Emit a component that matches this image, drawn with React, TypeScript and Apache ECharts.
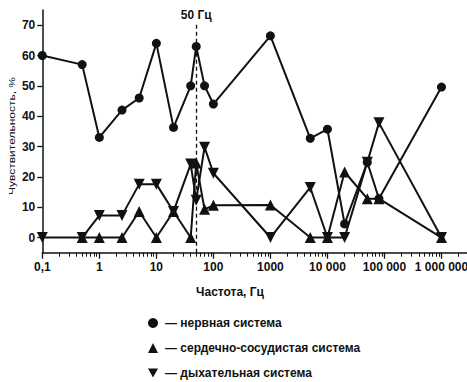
import React, { useEffect, useRef } from "react";
import * as echarts from "echarts";

// ---- data ----
const seriesNames = ["нервная система", "сердечно-сосудистая система", "дыхательная система"];

const nervousFreq = [0.1, 0.5, 1, 2.5, 5, 10, 20, 40, 50, 70, 100, 1000, 5000, 10000, 20000, 50000, 80000, 1000000];
const nervousVal = [60, 57, 33, 42, 46, 64, 36.3, 50, 63, 50, 44, 66.5, 32.7, 35.7, 4.5, 24.8, 12.8, 49.6];

const cardioFreq = [0.5, 1, 2.5, 5, 10, 20, 40, 50, 70, 100, 1000, 5000, 10000, 20000, 50000, 80000, 1000000];
const cardioVal = [0, 0, 0, 8.6, 0, 8.6, 0, 24.6, 9.3, 10.6, 10.7, 0, 0, 21.6, 12.8, 12.8, 0];

const respFreq = [0.1, 0.5, 1, 2.5, 5, 10, 20, 40, 50, 70, 100, 1000, 5000, 10000, 20000, 50000, 80000, 1000000];
const respVal = [0, 0, 7.3, 7.3, 17.6, 17.6, 8.6, 24.2, 12.3, 29.8, 21.2, 0, 16.5, 0, 0, 24.8, 37.8, 0];

const xMajorExp = [-1, 0, 1, 2, 3, 4, 5, 6];
const xTickLabels = ["0,1", "1", "10", "100", "1000", "10 000", "100 000", "1 000 000"];
const yTicks = [0, 10, 20, 30, 40, 50, 60, 70];
const markFreq = 50;
const markLabel = "50 Гц";
const xTitle = "Частота, Гц";
const yTitle = "Чувствительность, %";

// ---- axis extents / layout ----
const X_MIN = 0.1;
const X_MAX = 2.8e6;
const Y_MIN = -5;
const Y_MAX = 75;
const MARK_TOP = 71;

const FONT = "Liberation Sans";
const INK = "#111";
const DOWN_TRI = "path://M0,0L10,0L5,9Z";

const minorExp: number[] = [];
for (let n = -1; n <= 6; n++) {
  for (let k = 2; k <= 9; k++) {
    const v = Math.log10(k) + n;
    if (v < Math.log10(X_MAX)) minorExp.push(v);
  }
}

export default function App() {
  const ref = useRef<HTMLDivElement>(null);
  useEffect(() => {
    if (!ref.current) return;
    const chart = echarts.init(ref.current, null, { renderer: "svg" });
    const lx0 = Math.log10(X_MIN);
    const lx1 = Math.log10(X_MAX);
    const textStyle = { fontFamily: FONT, fontSize: 12, color: INK, fontWeight: "bold" as const };
    const lineSeries = (name: string, freq: number[], vals: number[], symbol: string, size: number) => ({
      name,
      type: "line",
      xAxisIndex: 0,
      yAxisIndex: 0,
      data: freq.map((f, i) => [f, vals[i]]),
      symbol,
      symbolSize: size,
      showSymbol: true,
      itemStyle: { color: INK },
      lineStyle: { color: INK, width: 2 },
      clip: false,
    });
    const s0: any = lineSeries(seriesNames[0], nervousFreq, nervousVal, "circle", 9);
    s0.markLine = {
      silent: true,
      symbol: "none",
      lineStyle: { type: [4, 3], color: INK, width: 1.3 },
      label: { show: true, position: "end", formatter: markLabel, distance: 1, ...textStyle },
      data: [[{ coord: [markFreq, Y_MIN] }, { coord: [markFreq, MARK_TOP] }]],
    };
    chart.setOption({
      animation: false,
      backgroundColor: "#fff",
      textStyle: { fontFamily: FONT },
      grid: { left: 42.3, right: 0, top: 10, bottom: 129.3, containLabel: false, outerBoundsMode: "none" },
      xAxis: [
        { type: "log", logBase: 10, min: X_MIN, max: X_MAX, show: false },
        {
          type: "value",
          min: lx0,
          max: lx1,
          position: "bottom",
          axisLine: { show: true, onZero: false, lineStyle: { color: INK, width: 1.5 } },
          axisTick: { show: true, customValues: xMajorExp, length: 6, lineStyle: { color: INK, width: 1.3 } },
          axisLabel: {
            show: true,
            customValues: xMajorExp,
            margin: 8,
            formatter: (v: number) => {
              const i = xMajorExp.indexOf(Math.round(v));
              return i >= 0 ? xTickLabels[i] : "";
            },
            ...textStyle,
          },
          splitLine: { show: false },
        },
        {
          type: "value",
          min: lx0,
          max: lx1,
          position: "bottom",
          axisLine: { show: false, onZero: false },
          axisTick: { show: true, customValues: minorExp, length: 4, lineStyle: { color: INK, width: 1 } },
          axisLabel: { show: false },
          splitLine: { show: false },
        },
      ],
      yAxis: {
        type: "value",
        min: Y_MIN,
        max: Y_MAX,
        interval: 5,
        axisLine: { show: true, onZero: false, lineStyle: { color: INK, width: 1.5 } },
        axisTick: { show: true, customValues: yTicks, length: 5, lineStyle: { color: INK, width: 1.3 } },
        axisLabel: { show: true, customValues: yTicks, margin: 7, ...textStyle },
        splitLine: { show: false },
      },
      legend: {
        orient: "vertical",
        left: 148,
        top: 316,
        padding: 0,
        itemWidth: 10,
        itemHeight: 10,
        itemGap: 11,
        textStyle: { ...textStyle, lineHeight: 14, padding: [0, 0, 0, 2] },
        formatter: (n: string) => "— " + n,
        data: [
          { name: seriesNames[0], icon: "circle" },
          { name: seriesNames[1], icon: "triangle" },
          { name: seriesNames[2], icon: DOWN_TRI },
        ],
      },
      graphic: [
        {
          type: "text",
          x: 230,
          y: 292,
          style: { text: xTitle, fill: INK, align: "center", verticalAlign: "middle", font: `bold 12px "${FONT}"` },
        },
        {
          type: "text",
          x: 11,
          y: 136,
          rotation: Math.PI / 2,
          scaleY: 0.83,
          style: { text: yTitle, fill: INK, align: "center", verticalAlign: "middle", font: `12px "${FONT}"` },
        },
      ],
      series: [
        s0,
        lineSeries(seriesNames[1], cardioFreq, cardioVal, "triangle", 11),
        lineSeries(seriesNames[2], respFreq, respVal, DOWN_TRI, 11),
      ],
    });
    return () => chart.dispose();
  }, []);
  return <div ref={ref} style={{ position: "fixed", left: 0, top: 0, width: 467, height: 382 }} />;
}
